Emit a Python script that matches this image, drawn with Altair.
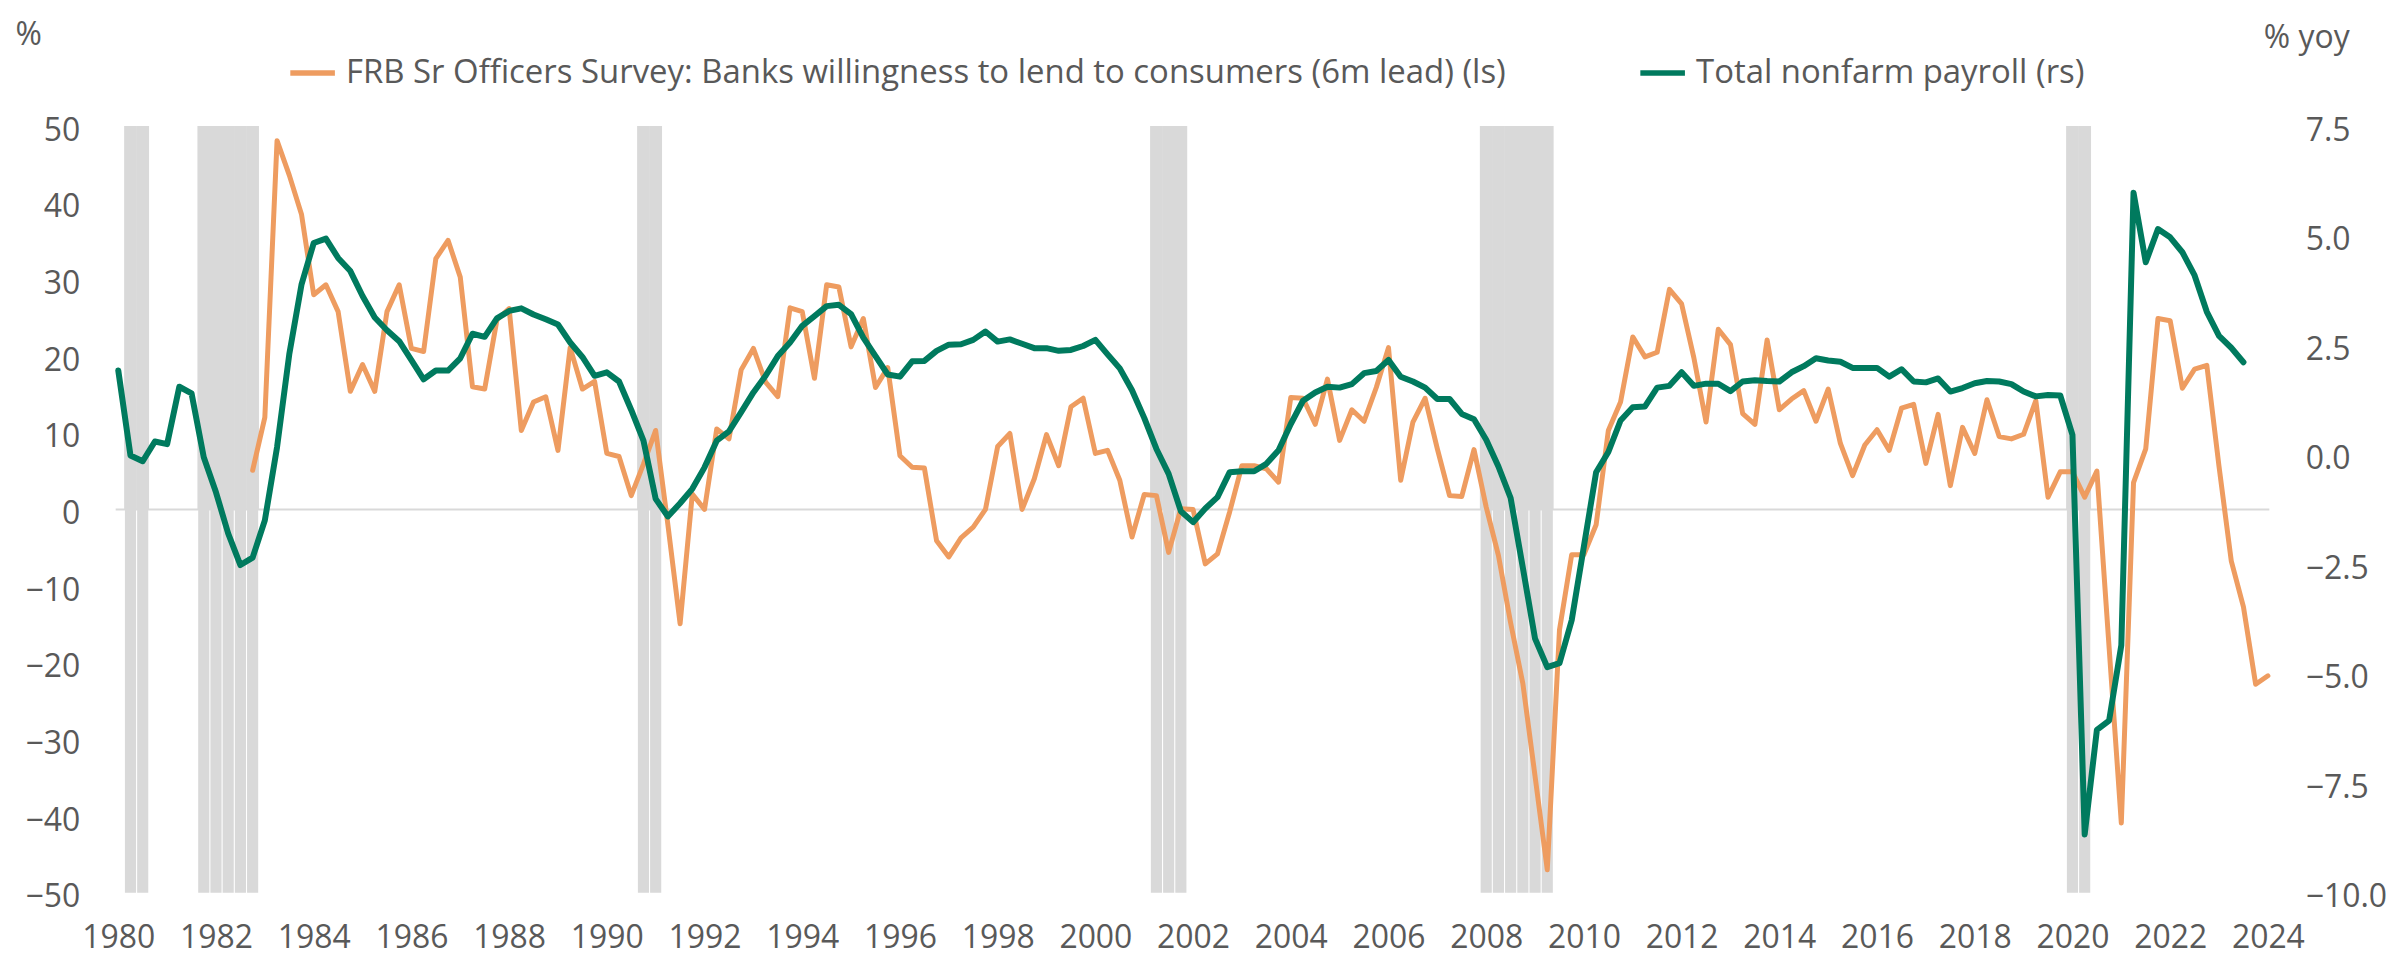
import altair as alt
import pandas as pd

# ---------------- data ----------------
ORANGE_NAME = "FRB Sr Officers Survey: Banks willingness to lend to consumers (6m lead) (ls)"
GREEN_NAME = "Total nonfarm payroll (rs)"

# quarterly, first value at 1982 Q4 (1982.75), last at 2024 Q1
orange_start = 1982.75
orange_vals = [
    5.1,
    12.0, 48.1, 43.6, 38.5,
    28.0, 29.3, 25.8, 15.4,
    18.9, 15.4, 25.8, 29.3,
    21.0, 20.6, 32.7, 35.1,
    30.3, 16.0, 15.7, 24.7,
    26.2, 10.3, 14.0, 14.7,
    7.7, 21.1, 15.7, 16.7,
    7.3, 6.9, 1.8, 5.9,
    10.3, -2.0, -14.9, 2.0,
    0.0, 10.5, 9.2, 18.2,
    21.0, 16.6, 14.7, 26.3,
    25.8, 17.1, 29.3, 29.0,
    21.2, 24.9, 15.9, 18.5,
    7.0, 5.5, 5.4, -4.1,
    -6.2, -3.7, -2.3, 0.0,
    8.2, 9.9, 0.0, 4.0,
    9.75, 5.7, 13.4, 14.5,
    7.3, 7.7, 3.8, -3.6,
    1.95, 1.8, -5.6, 0.1,
    0.0, -7.1, -5.8, -0.3,
    5.7, 5.7, 5.3, 3.55,
    14.6, 14.5, 11.1, 17.0,
    9.0, 13.0, 11.5, 15.9,
    21.1, 3.8, 11.4, 14.5,
    7.9, 1.8, 1.7, 7.8,
    0.3, -6.0, -14.8, -22.7,
    -34.8, -47.0, -15.7, -5.9,
    -5.9, -2.0, 10.3, 14.0,
    22.5, 19.9, 20.5, 28.7,
    26.8, 19.8, 11.4, 23.5,
    21.5, 12.5, 11.1, 22.1,
    13.0, 14.4, 15.5, 11.5,
    15.7, 8.6, 4.4, 8.4,
    10.4, 7.7, 13.2, 13.7,
    6.0, 12.4, 3.1, 10.7,
    7.3, 14.3, 9.5, 9.2,
    9.8, 14.2, 1.6, 4.9,
    4.9, 1.6, 5.0, -18.0,
    -40.9, 3.5, 7.9, 24.9,
    24.6, 15.8, 18.3, 18.8,
    5.6, -6.7, -12.7, -22.8,
    -21.7,
]

# quarterly % yoy, first value at 1980 Q1 (1980.0), last at 2023 Q3
green_start = 1980.0
green_vals = [
    1.92, -0.02, -0.15, 0.30,
    0.24, 1.55, 1.40, -0.06,
    -0.86, -1.80, -2.52, -2.35,
    -1.50, 0.17, 2.29, 3.88,
    4.83, 4.93, 4.49, 4.19,
    3.62, 3.13, 2.84, 2.59,
    2.16, 1.72, 1.92, 1.92,
    2.20, 2.76, 2.69, 3.11,
    3.28, 3.34, 3.20, 3.09,
    2.97, 2.56, 2.23, 1.80,
    1.88, 1.67, 1.02, 0.32,
    -1.01, -1.41, -1.11, -0.78,
    -0.29, 0.32, 0.53, 0.97,
    1.42, 1.80, 2.25, 2.56,
    2.94, 3.16, 3.39, 3.42,
    3.21, 2.67, 2.25, 1.83,
    1.78, 2.13, 2.14, 2.37,
    2.51, 2.52, 2.62, 2.81,
    2.58, 2.63, 2.53, 2.43,
    2.43, 2.37, 2.39, 2.48,
    2.62, 2.29, 1.97, 1.47,
    0.84, 0.13, -0.44, -1.29,
    -1.54, -1.23, -0.97, -0.40,
    -0.38, -0.38, -0.21, 0.10,
    0.70, 1.23, 1.42, 1.55,
    1.53, 1.61, 1.86, 1.91,
    2.16, 1.78, 1.67, 1.53,
    1.27, 1.27, 0.93, 0.81,
    0.34, -0.27, -0.99, -2.58,
    -4.20, -4.85, -4.76, -3.78,
    -2.09, -0.40, 0.06, 0.78,
    1.08, 1.10, 1.53, 1.57,
    1.88, 1.57, 1.62, 1.62,
    1.45, 1.67, 1.70, 1.68,
    1.67, 1.88, 2.02, 2.20,
    2.15, 2.12, 1.98, 1.98,
    1.98, 1.78, 1.95, 1.67,
    1.65, 1.74, 1.44, 1.52,
    1.63, 1.68, 1.67, 1.61,
    1.44, 1.33, 1.36, 1.35,
    0.45, -8.67, -6.28, -6.07,
    -4.35, 5.98, 4.39, 5.15,
    4.96, 4.62, 4.09, 3.26,
    2.71, 2.44, 2.11,
]

# recession quarters (quarter dates, as decimal years)
recession_quarters = [
    1980.25, 1980.5,
    1981.75, 1982.0, 1982.25, 1982.5, 1982.75,
    1990.75, 1991.0,
    2001.25, 2001.5, 2001.75,
    2008.0, 2008.25, 2008.5, 2008.75, 2009.0, 2009.25,
    2020.0, 2020.25,
]

x_ticks = list(range(1980, 2025, 2))
left_ticks = list(range(-50, 51, 10))
right_ticks = [-10.0, -7.5, -5.0, -2.5, 0.0, 2.5, 5.0, 7.5]

# ---------------- tables ----------------
orange_df = pd.DataFrame({
    "t": [orange_start + 0.25 * i for i in range(len(orange_vals))],
    "v": orange_vals,
    "series": ORANGE_NAME,
})
green_df = pd.DataFrame({
    "t": [green_start + 0.25 * i for i in range(len(green_vals))],
    "v": green_vals,
    "series": GREEN_NAME,
})
rec_df = pd.DataFrame({"q": recession_quarters})

FONT = "Open Sans"
GREY_TXT = "#595959"
ORANGE = "#EE9C60"
GREEN = "#007A5E"
SHADE = "#D9D9D9"

xscale = alt.Scale(domain=[1979.947, 2024.03], nice=False, zero=False)
lscale = alt.Scale(domain=[-50, 50], nice=False)
rscale = alt.Scale(domain=[-10, 7.5], nice=False)

color_scale = alt.Scale(domain=[ORANGE_NAME, GREEN_NAME], range=[ORANGE, GREEN])

x_axis = alt.Axis(values=x_ticks, format="d", title=None, grid=False, domain=False,
                  ticks=False, tickSize=0, labelFontSize=32, labelFont=FONT,
                  labelColor=GREY_TXT, labelPadding=30, labelFlush=False,
                  labelOverlap=False)

left_axis = alt.Axis(values=left_ticks, format="d", title="%", titleAngle=0,
                     titleX=-101, titleY=-82, titleAlign="left",
                     titleBaseline="alphabetic", titleFontSize=32,
                     titleFontWeight="normal", titleFont=FONT, titleColor=GREY_TXT,
                     grid=False, domain=False, ticks=False, tickSize=0,
                     labelFontSize=32, labelFont=FONT, labelColor=GREY_TXT,
                     labelPadding=36, labelOffset=4, labelOverlap=False)

right_axis = alt.Axis(values=right_ticks, format=".1f", title="% yoy", titleAngle=0,
                      titleX=-6, titleY=-79, titleAlign="left",
                      titleBaseline="alphabetic", titleFontSize=32,
                      titleFontWeight="normal", titleFont=FONT, titleColor=GREY_TXT,
                      grid=False, domain=False, ticks=False, tickSize=0,
                      labelFontSize=32, labelFont=FONT, labelColor=GREY_TXT,
                      labelPadding=36, labelOffset=4, labelOverlap=False,
                      labelAlign="left")

base_rec = alt.Chart(rec_df)

rec_upper = base_rec.transform_calculate(
    x0="datum.q - 0.13", x1="datum.q + 0.13", y0="0", y1="50"
).mark_rect(color=SHADE).encode(
    x=alt.X("x0:Q", scale=xscale, axis=x_axis),
    x2="x1:Q",
    y=alt.Y("y0:Q", scale=lscale, axis=left_axis),
    y2="y1:Q",
)

rec_lower = base_rec.transform_calculate(
    x0="datum.q - 0.114", x1="datum.q + 0.114", y0="-50", y1="0"
).mark_rect(color=SHADE).encode(
    x=alt.X("x0:Q", scale=xscale),
    x2="x1:Q",
    y=alt.Y("y0:Q", scale=lscale),
    y2="y1:Q",
)

zero_line = alt.Chart(pd.DataFrame({"z": [0]})).mark_rule(
    color=SHADE, strokeWidth=2
).encode(y=alt.Y("z:Q", scale=lscale))

legend = alt.Legend(
    orient="none", legendX=172, legendY=-79, direction="horizontal",
    title=None, symbolType="stroke", symbolSize=2000, symbolStrokeWidth=5.5,
    labelFontSize=33, labelFont=FONT, labelColor=GREY_TXT, labelLimit=3000,
    labelOffset=8, columnPadding=123, padding=0, symbolOpacity=1,
)

orange_line = alt.Chart(orange_df).mark_line(
    strokeWidth=5, strokeJoin="round", strokeCap="round"
).encode(
    x=alt.X("t:Q", scale=xscale),
    y=alt.Y("v:Q", scale=lscale),
    color=alt.Color("series:N", scale=color_scale, legend=legend),
)

green_line = alt.Chart(green_df).mark_line(
    strokeWidth=6, strokeJoin="round", strokeCap="round"
).encode(
    x=alt.X("t:Q", scale=xscale),
    y=alt.Y("v:Q", scale=rscale, axis=right_axis),
    color=alt.Color("series:N", scale=color_scale, legend=legend),
)

left_layer = alt.layer(rec_upper, rec_lower, zero_line, orange_line)

chart = alt.layer(left_layer, green_line).resolve_scale(
    y="independent"
).properties(
    width=2160, height=769,
    autosize=alt.AutoSizeParams(type="none"),
    padding={"left": 108, "top": 117, "right": 118, "bottom": 66},
    background="white",
).configure_view(stroke=None)

chart.save("out.html", embed_options={"renderer": "svg", "actions": False})
